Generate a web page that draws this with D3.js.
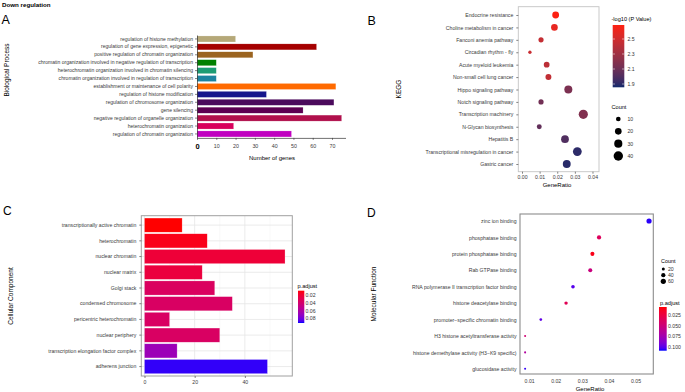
<!DOCTYPE html>
<html>
<head>
<meta charset="utf-8">
<script src="https://cdn.jsdelivr.net/npm/d3@7"></script>
<style>
  body { margin: 0; background: #fff; }
  svg { display: block; font-family: "Liberation Sans", Arial, sans-serif; }
</style>
</head>
<body>
<div id="chart"></div>
<script>
// ---------- data ----------
// A: Biological Process (top to bottom)
const bpTerms = [
  "regulation of histone methylation",
  "regulation of gene expression, epigenetic",
  "positive regulation of chromatin organization",
  "chromatin organization involved in negative regulation of transcription",
  "heterochromatin organization involved in chromatin silencing",
  "chromatin organization involved in regulation of transcription",
  "establishment or maintenance of cell polarity",
  "regulation of histone modification",
  "regulation of chromosome organization",
  "gene silencing",
  "negative regulation of organelle organization",
  "heterochromatin organization",
  "regulation of chromatin organization"
];
const bpCounts = [20, 62, 29, 10, 10, 10, 72, 36, 71, 55, 75, 19, 49];
const bpColors = ["#b5a878", "#a50000", "#9b6420", "#008000", "#1c9c74", "#1c84a0",
                  "#ff6a00", "#16168c", "#4b0a5c", "#5c0052", "#b0104c", "#d8005c", "#c000c0"];
const bpTicks = [0, 10, 20, 30, 40, 50, 60, 70];

// B: KEGG
const keggTerms = [
  "Endocrine resistance", "Choline metabolism in cancer", "Fanconi anemia pathway",
  "Circadian rhythm - fly", "Acute myeloid leukemia", "Non-small cell lung cancer",
  "Hippo signaling pathway", "Notch signaling pathway", "Transcription machinery",
  "N-Glycan biosynthesis", "Hepatitis B", "Transcriptional misregulation in cancer",
  "Gastric cancer"
];
const keggRatio = [0.0191, 0.0184, 0.0108, 0.0045, 0.0140, 0.0150, 0.0263, 0.0108,
                   0.0348, 0.0098, 0.0244, 0.0314, 0.0254];
const keggCount = [21, 20, 12, 5, 15, 16, 29, 12, 38, 11, 27, 35, 28];
const keggLogP  = [2.68, 2.60, 2.45, 2.47, 2.42, 2.44, 2.16, 2.12, 2.18, 2.06, 2.00, 1.90, 1.89];
const keggXTicks = [0, 0.01, 0.02, 0.03, 0.04];
const keggPTicks = [1.9, 2.1, 2.3, 2.5];
const keggCountTicks = [10, 20, 30, 40];

// C: Cellular Component
const ccTerms = [
  "transcriptionally active chromatin", "heterochromatin", "nuclear chromatin",
  "nuclear matrix", "Golgi stack", "condensed chromosome", "pericentric heterochromatin",
  "nuclear periphery", "transcription elongation factor complex", "adherens junction"
];
const ccCounts = [15, 25, 56, 23, 28, 35, 10, 30, 13, 49];
const ccPadj = [0.008, 0.012, 0.021, 0.023, 0.035, 0.036, 0.036, 0.036, 0.067, 0.090];
const ccXTicks = [0, 20, 40];
const ccPTicks = [0.02, 0.04, 0.06, 0.08];

// D: Molecular Function
const mfTerms = [
  "zinc ion binding", "phosphatase binding", "protein phosphatase binding",
  "Rab GTPase binding", "RNA polymerase II transcription factor binding",
  "histone deacetylase binding", "promoter\u2212specific chromatin binding",
  "H3 histone acetyltransferase activity", "histone demethylase activity (H3\u2212K9 specific)",
  "glucosidase activity"
];
const mfRatio = [0.0551, 0.0363, 0.0338, 0.0330, 0.0265, 0.0239, 0.0144, 0.0085, 0.0085, 0.0085];
const mfCount = [60, 40, 37, 36, 29, 26, 16, 9, 9, 9];
const mfPadj  = [0.106, 0.037, 0.011, 0.052, 0.100, 0.034, 0.098, 0.047, 0.067, 0.105];
const mfXTicks = [0.01, 0.02, 0.03, 0.04, 0.05];
const mfPTicks = [0.025, 0.050, 0.075, 0.100];
const mfCountTicks = [20, 40, 60];

// ---------- setup ----------
const W = 685, H = 392;
const TICK_FS = 5.15;
const svg = d3.select("#chart").append("svg").attr("width", W).attr("height", H);
const defs = svg.append("defs");

function styleAxis(g, size) {
  g.selectAll("text").attr("font-size", size || TICK_FS).attr("fill", "#3a3a3a");
  g.selectAll(".tick line").attr("stroke", "#333").attr("stroke-width", 0.6);
}

function addText(x, y, txt, size, opts = {}) {
  const t = svg.append("text").attr("x", x).attr("y", y).attr("font-size", size)
    .attr("fill", opts.fill || "#000").attr("text-anchor", opts.anchor || "start")
    .text(txt);
  if (opts.bold) t.attr("font-weight", "bold");
  if (opts.rotate) t.attr("transform", `rotate(-90,${x},${y})`);
  return t;
}

// vertical colour bar: value vTop at y0, vBottom at y1
function gradientBar(id, color, vTop, vBottom, x, y0, y1, w) {
  const grad = defs.append("linearGradient").attr("id", id)
    .attr("x1", 0).attr("y1", 0).attr("x2", 0).attr("y2", 1);
  d3.range(0, 1.0001, 0.05).forEach(t => {
    grad.append("stop").attr("offset", t).attr("stop-color", color(vTop + t * (vBottom - vTop)));
  });
  svg.append("rect").attr("x", x).attr("y", y0).attr("width", w).attr("height", y1 - y0)
    .attr("fill", `url(#${id})`);
}

// ---------- A ----------
addText(2, 6.5, "Down regulation", 6.2, { bold: true });
addText(1.5, 24, "A", 12.5);

const ax = d3.scaleLinear().domain([0, 77]).range([197, 345.5]);
const ay = d3.scaleBand().domain(bpTerms).range([35.0, 137.9])
  .paddingInner(0.24).paddingOuter(0.12);

svg.append("g").selectAll("rect").data(bpTerms).join("rect")
  .attr("x", ax(0))
  .attr("y", d => ay(d))
  .attr("width", (d, i) => ax(bpCounts[i]) - ax(0))
  .attr("height", ay.bandwidth())
  .attr("fill", (d, i) => bpColors[i])
  .attr("stroke", "#fff").attr("stroke-opacity", 0.5).attr("stroke-width", 0.4);

const gAy = svg.append("g").attr("transform", "translate(197,0)")
  .call(d3.axisLeft(ay).tickSize(2).tickPadding(2).tickSizeOuter(0));
gAy.select(".domain").attr("stroke", "#333").attr("stroke-width", 0.7);
styleAxis(gAy, 5.05);

const gAx = svg.append("g").attr("transform", "translate(0,137.9)")
  .call(d3.axisBottom(ax).tickValues(bpTicks).tickSize(2).tickPadding(4).tickSizeOuter(0));
gAx.select(".domain").attr("stroke", "#333").attr("stroke-width", 0.7);
styleAxis(gAx, 5.3);
gAx.select(".tick text").attr("font-size", 7.5).attr("font-weight", "bold").attr("fill", "#000");

addText(272, 160, "Number of genes", 6, { anchor: "middle" });
addText(8.5, 70, "Biological Process", 6.5, { anchor: "middle", rotate: true });

// ---------- B ----------
addText(367.5, 25, "B", 12.5);
const bBox = { x0: 518.3, x1: 599, y0: 6.7, y1: 171.7 };
const bx = d3.scaleLinear().domain([-0.0021, 0.0437]).range([bBox.x0, bBox.x1]);
const by = d3.scalePoint().domain(keggTerms).range([15, 164]);
const bColor = d3.scaleLinear().domain([1.856, 2.687]).range(["#112a6c", "#fe2010"])
  .interpolate(d3.interpolateLab);
const bSize = d3.scaleSqrt().domain([0, 40]).range([0, 4.7]);

svg.append("rect").attr("x", bBox.x0).attr("y", bBox.y0)
  .attr("width", bBox.x1 - bBox.x0).attr("height", bBox.y1 - bBox.y0)
  .attr("fill", "none").attr("stroke", "#c4c4c4").attr("stroke-width", 0.9);

svg.append("g").selectAll("circle").data(keggTerms).join("circle")
  .attr("cx", (d, i) => bx(keggRatio[i]))
  .attr("cy", d => by(d))
  .attr("r", (d, i) => bSize(keggCount[i]))
  .attr("fill", (d, i) => bColor(keggLogP[i]));

const gBy = svg.append("g").attr("transform", `translate(${bBox.x0},0)`)
  .call(d3.axisLeft(by).tickSize(2).tickPadding(3).tickSizeOuter(0));
gBy.select(".domain").remove();
styleAxis(gBy);
const gBx = svg.append("g").attr("transform", `translate(0,${bBox.y1})`)
  .call(d3.axisBottom(bx).tickValues(keggXTicks).tickFormat(d3.format(".2f"))
    .tickSize(2).tickPadding(2).tickSizeOuter(0));
gBx.select(".domain").remove();
styleAxis(gBx);
addText(557, 187, "GeneRatio", 6, { anchor: "middle" });
addText(401, 89, "KEGG", 6.5, { anchor: "middle", rotate: true });

// B legends
addText(611.5, 21, "-log10 (P Value)", 5.6);
const bLeg = d3.scaleLinear().domain([1.9, 2.5]).range([84, 39]);
gradientBar("gradB", bColor, bLeg.invert(25), bLeg.invert(87.3), 612.7, 25, 87.3, 11.6);
keggPTicks.forEach(v => {
  svg.append("line").attr("x1", 612.7).attr("x2", 615).attr("y1", bLeg(v)).attr("y2", bLeg(v))
    .attr("stroke", "#fff").attr("stroke-width", 0.5);
  svg.append("line").attr("x1", 622).attr("x2", 624.3).attr("y1", bLeg(v)).attr("y2", bLeg(v))
    .attr("stroke", "#fff").attr("stroke-width", 0.5);
  addText(627.5, bLeg(v) + 1.9, d3.format(".1f")(v), TICK_FS, { fill: "#333" });
});
addText(611.5, 109, "Count", 5.6);
const bCountY = d3.scalePoint().domain(keggCountTicks).range([119, 156]);
keggCountTicks.forEach(v => {
  svg.append("circle").attr("cx", 618.3).attr("cy", bCountY(v)).attr("r", bSize(v)).attr("fill", "#000");
  addText(627.5, bCountY(v) + 1.9, v, TICK_FS, { fill: "#333" });
});

// ---------- C ----------
addText(3, 215, "C", 12);
const cBox = { x0: 141.3, x1: 292.3, y0: 215.7, y1: 376 };
const cx = d3.scaleLinear().domain([-1.27, 58.9]).range([cBox.x0, cBox.x1]);
const cy = d3.scaleBand().domain(ccTerms).range([cBox.y0, cBox.y1])
  .paddingInner(0.1).paddingOuter(0.15);
const cColor = d3.scaleLinear().domain([0.008, 0.0922]).range(["#ff0000", "#0000ff"])
  .interpolate(d3.interpolateLab);

const cGrid = svg.append("g");
[10, 30, 50].forEach(v => cGrid.append("line").attr("x1", cx(v)).attr("x2", cx(v))
  .attr("y1", cBox.y0).attr("y2", cBox.y1).attr("stroke", "#f2f2f2").attr("stroke-width", 0.5));
ccXTicks.forEach(v => cGrid.append("line").attr("x1", cx(v)).attr("x2", cx(v))
  .attr("y1", cBox.y0).attr("y2", cBox.y1).attr("stroke", "#e6e6e6").attr("stroke-width", 0.8));
ccTerms.forEach(t => cGrid.append("line").attr("x1", cBox.x0).attr("x2", cBox.x1)
  .attr("y1", cy(t) + cy.bandwidth() / 2).attr("y2", cy(t) + cy.bandwidth() / 2)
  .attr("stroke", "#e6e6e6").attr("stroke-width", 0.8));

svg.append("g").selectAll("rect").data(ccTerms).join("rect")
  .attr("x", cx(0))
  .attr("y", d => cy(d))
  .attr("width", (d, i) => cx(ccCounts[i]) - cx(0))
  .attr("height", cy.bandwidth())
  .attr("fill", (d, i) => cColor(ccPadj[i]))
  .attr("stroke", "#fff").attr("stroke-opacity", 0.45).attr("stroke-width", 0.5);

svg.append("rect").attr("x", cBox.x0).attr("y", cBox.y0)
  .attr("width", cBox.x1 - cBox.x0).attr("height", cBox.y1 - cBox.y0)
  .attr("fill", "none").attr("stroke", "#a0a0a0").attr("stroke-width", 1);

const gCy = svg.append("g").attr("transform", `translate(${cBox.x0},0)`)
  .call(d3.axisLeft(cy).tickSize(2).tickPadding(3).tickSizeOuter(0));
gCy.select(".domain").remove();
styleAxis(gCy);
const gCx = svg.append("g").attr("transform", `translate(0,${cBox.y1})`)
  .call(d3.axisBottom(cx).tickValues(ccXTicks).tickSize(2).tickPadding(2).tickSizeOuter(0));
gCx.select(".domain").remove();
styleAxis(gCx);
addText(13, 296, "Cellular Component", 6.5, { anchor: "middle", rotate: true });

// C legend
addText(297.5, 288, "p.adjust", 5.6);
const cLeg = d3.scaleLinear().domain([0.02, 0.08]).range([295.3, 318.3]);
gradientBar("gradC", cColor, cLeg.invert(290.7), cLeg.invert(323), 298, 290.7, 323, 6.3);
ccPTicks.forEach(v => addText(305.5, cLeg(v) + 1.9, d3.format(".2f")(v), TICK_FS, { fill: "#333" }));

// ---------- D ----------
addText(367, 217.3, "D", 12);
const dBox = { x0: 520, x1: 653.3, y0: 214, y1: 374 };
const dx = d3.scaleLinear().domain([0.00658, 0.0567]).range([dBox.x0, dBox.x1]);
const dy = d3.scalePoint().domain(mfTerms).range([221, 368.8]);
const dColor = d3.scaleLinear().domain([0.0064, 0.1079]).range(["#ff0000", "#0000ff"])
  .interpolate(d3.interpolateLab);
const dSize = d3.scaleSqrt().domain([0, 60]).range([0, 2.6]);

svg.append("rect").attr("x", dBox.x0).attr("y", dBox.y0)
  .attr("width", dBox.x1 - dBox.x0).attr("height", dBox.y1 - dBox.y0)
  .attr("fill", "none").attr("stroke", "#8c8c8c").attr("stroke-width", 1.1);

svg.append("g").selectAll("circle").data(mfTerms).join("circle")
  .attr("cx", (d, i) => dx(mfRatio[i]))
  .attr("cy", d => dy(d))
  .attr("r", (d, i) => dSize(mfCount[i]))
  .attr("fill", (d, i) => dColor(mfPadj[i]));

const gDy = svg.append("g").attr("transform", `translate(${dBox.x0},0)`)
  .call(d3.axisLeft(dy).tickSize(0).tickPadding(3.5));
gDy.select(".domain").remove();
styleAxis(gDy);
const gDx = svg.append("g").attr("transform", `translate(0,${dBox.y1})`)
  .call(d3.axisBottom(dx).tickValues(mfXTicks).tickFormat(d3.format(".2f"))
    .tickSize(0).tickPadding(5).tickSizeOuter(0));
gDx.select(".domain").remove();
styleAxis(gDx);
addText(590, 391, "GeneRatio", 6, { anchor: "middle" });
addText(376, 294, "Molecular Function", 6.5, { anchor: "middle", rotate: true });

// D legends
addText(661, 263, "Count", 5.4);
const dCountY = d3.scalePoint().domain(mfCountTicks).range([269, 281.3]);
mfCountTicks.forEach(v => {
  svg.append("circle").attr("cx", 663.3).attr("cy", dCountY(v)).attr("r", dSize(v)).attr("fill", "#000");
  addText(668, dCountY(v) + 1.9, v, TICK_FS, { fill: "#333" });
});
addText(660, 304.5, "p.adjust", 5.6);
const dLeg = d3.scaleLinear().domain([0.025, 0.1]).range([315, 347.3]);
gradientBar("gradD", dColor, dLeg.invert(307), dLeg.invert(350.7), 659, 307, 350.7, 7.7);
mfPTicks.forEach(v => addText(668, dLeg(v) + 1.9, d3.format(".3f")(v), TICK_FS, { fill: "#333" }));
</script>
</body>
</html>
